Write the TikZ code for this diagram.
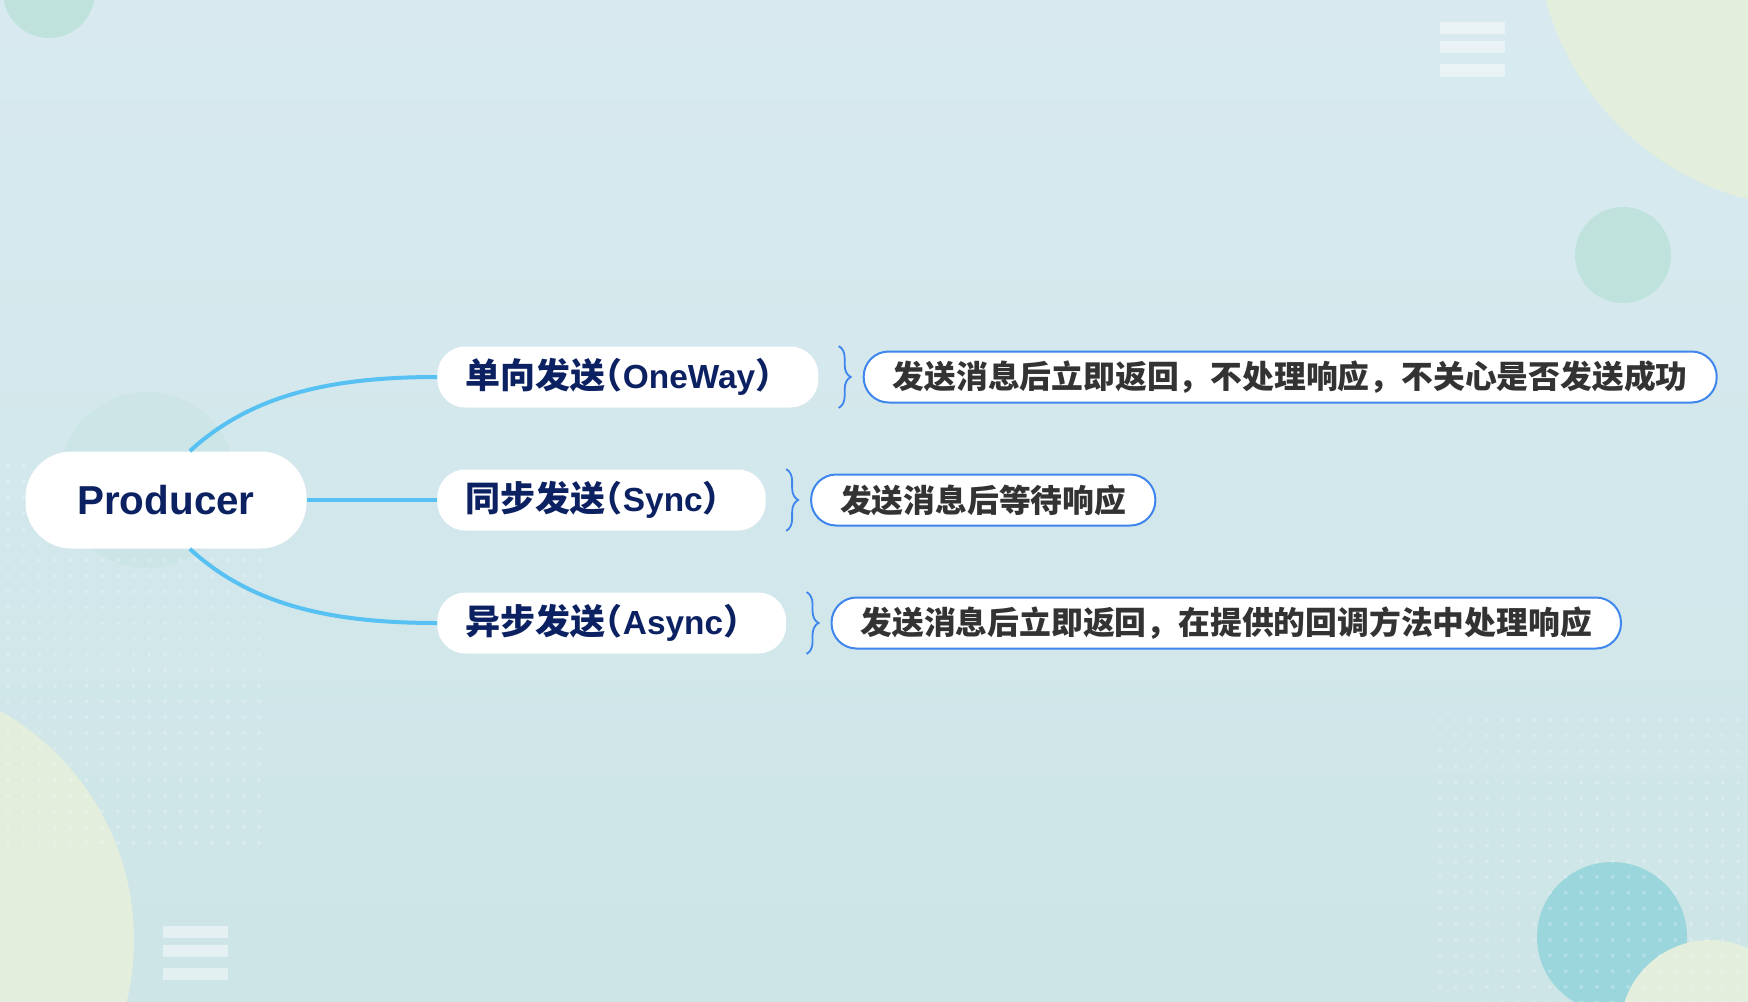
\documentclass[tikz,border=0pt]{standalone}
\usepackage{fontspec}
\setmainfont{Liberation Sans}
\newfontfamily\cjk{Noto Sans CJK SC}
\newfontfamily\cjkhalf{Noto Sans CJK SC}[RawFeature=+halt]
\newcommand{\lat}[1]{{\fontsize{16.7}{18}\selectfont\rmfamily\bfseries #1}}
\newcommand{\lpar}{{\cjkhalf\bfseries （}}
\usetikzlibrary{positioning,calc,decorations.pathreplacing}
\definecolor{bgtop}{HTML}{D8EAF0}
\definecolor{bgbot}{HTML}{CDE5E7}
\definecolor{mint}{HTML}{C0E2DD}
\definecolor{pale}{HTML}{E4EEDC}
\definecolor{teal}{HTML}{9CD6DD}
\definecolor{linkblue}{HTML}{56C1F2}
\definecolor{navy}{HTML}{0B2161}
\definecolor{descblue}{HTML}{3F85EE}
\definecolor{textgray}{HTML}{333333}
\tikzset{
  root/.style={fill=white, rounded corners=23pt, minimum width=140.5pt, minimum height=48.5pt,
    text=navy, font=\fontsize{20.2}{22}\selectfont\bfseries},
  branch/.style={fill=white, rounded corners=14pt, minimum height=30.5pt, inner xsep=14pt,
    anchor=west, text=navy, font=\fontsize{17.5}{20}\selectfont\cjk\bfseries},
  desc/.style={fill=white, draw=descblue, line width=1pt, rounded corners=12.5pt, minimum height=25.5pt,
    inner xsep=14.5pt, text=textgray, font=\fontsize{15.9}{19}\selectfont\cjk\bfseries},
  link/.style={draw=linkblue, line width=2pt},
  curly/.style={draw=descblue, line width=0.9pt, decorate, decoration={brace, amplitude=6pt}},
  bar/.style={fill=white, fill opacity=0.45},
  dot/.style={fill=white, fill opacity=0.22}
}
\begin{document}
\begin{tikzpicture}[x=0.5pt, y=-0.5pt]
\useasboundingbox (0,0) rectangle (1748,1001);
\begin{scope}
\clip (0,0) rectangle (1748,1001);
\shade[top color=bgtop, bottom color=bgbot] (0,0) rectangle (1748,1001);
\fill[mint] (49,-8) circle[radius=23pt];
\fill[pale] (1818,-74) circle[radius=141pt];
\fill[mint] (1623,255) circle[radius=24pt];
\fill[mint, opacity=0.35] (147,480) circle[radius=44pt];
\fill[pale] (-129,940) circle[radius=131.5pt];
\fill[teal] (1612,937) circle[radius=37.5pt];
\fill[pale] (1710,1030) circle[radius=45pt];
\foreach \i in {0,...,16}
  \foreach \j in {0,...,24}
    \fill[dot] ({8+15.7*\i},{466+15.7*\j}) circle[radius=1pt];
\foreach \i in {0,...,19}
  \foreach \j in {0,...,18}
    \fill[dot] ({1440+15.7*\i},{720+15.7*\j}) circle[radius=1pt];
\fill[bar] (1440,22) rectangle (1505,34);
\fill[bar] (1440,41) rectangle (1505,53);
\fill[bar] (1440,64) rectangle (1505,77);
\fill[bar] (163,926) rectangle (228,938);
\fill[bar] (163,945) rectangle (228,957);
\fill[bar] (163,968) rectangle (228,980);
\end{scope}

\node[root] (p) at (166,500) {Producer};
\node[branch] (b1) at (437,377) {单向发送\lpar\lat{OneWay}）};
\node[branch] (b2) at (437,500) {同步发送\lpar\lat{Sync}）};
\node[branch] (b3) at (437,623) {异步发送\lpar\lat{Async}）};
\node[desc, right=22pt of b1] (d1) {发送消息后立即返回，不处理响应，不关心是否发送成功};
\node[desc, right=22pt of b2] (d2) {发送消息后等待响应};
\node[desc, right=22pt of b3] (d3) {发送消息后立即返回，在提供的回调方法中处理响应};

\draw[link] (p.64) .. controls +(61,-56) and +(-107,0) .. (b1.west);
\draw[link] (p.east) -- (b2.west);
\draw[link] (p.-64) .. controls +(61,56) and +(-107,0) .. (b3.west);

\draw[curly] ($(d1.west |- b1.north)+(-12pt,0)$) -- ($(d1.west |- b1.south)+(-12pt,0)$);
\draw[curly] ($(d2.west |- b2.north)+(-12pt,0)$) -- ($(d2.west |- b2.south)+(-12pt,0)$);
\draw[curly] ($(d3.west |- b3.north)+(-12pt,0)$) -- ($(d3.west |- b3.south)+(-12pt,0)$);
\end{tikzpicture}
\end{document}
